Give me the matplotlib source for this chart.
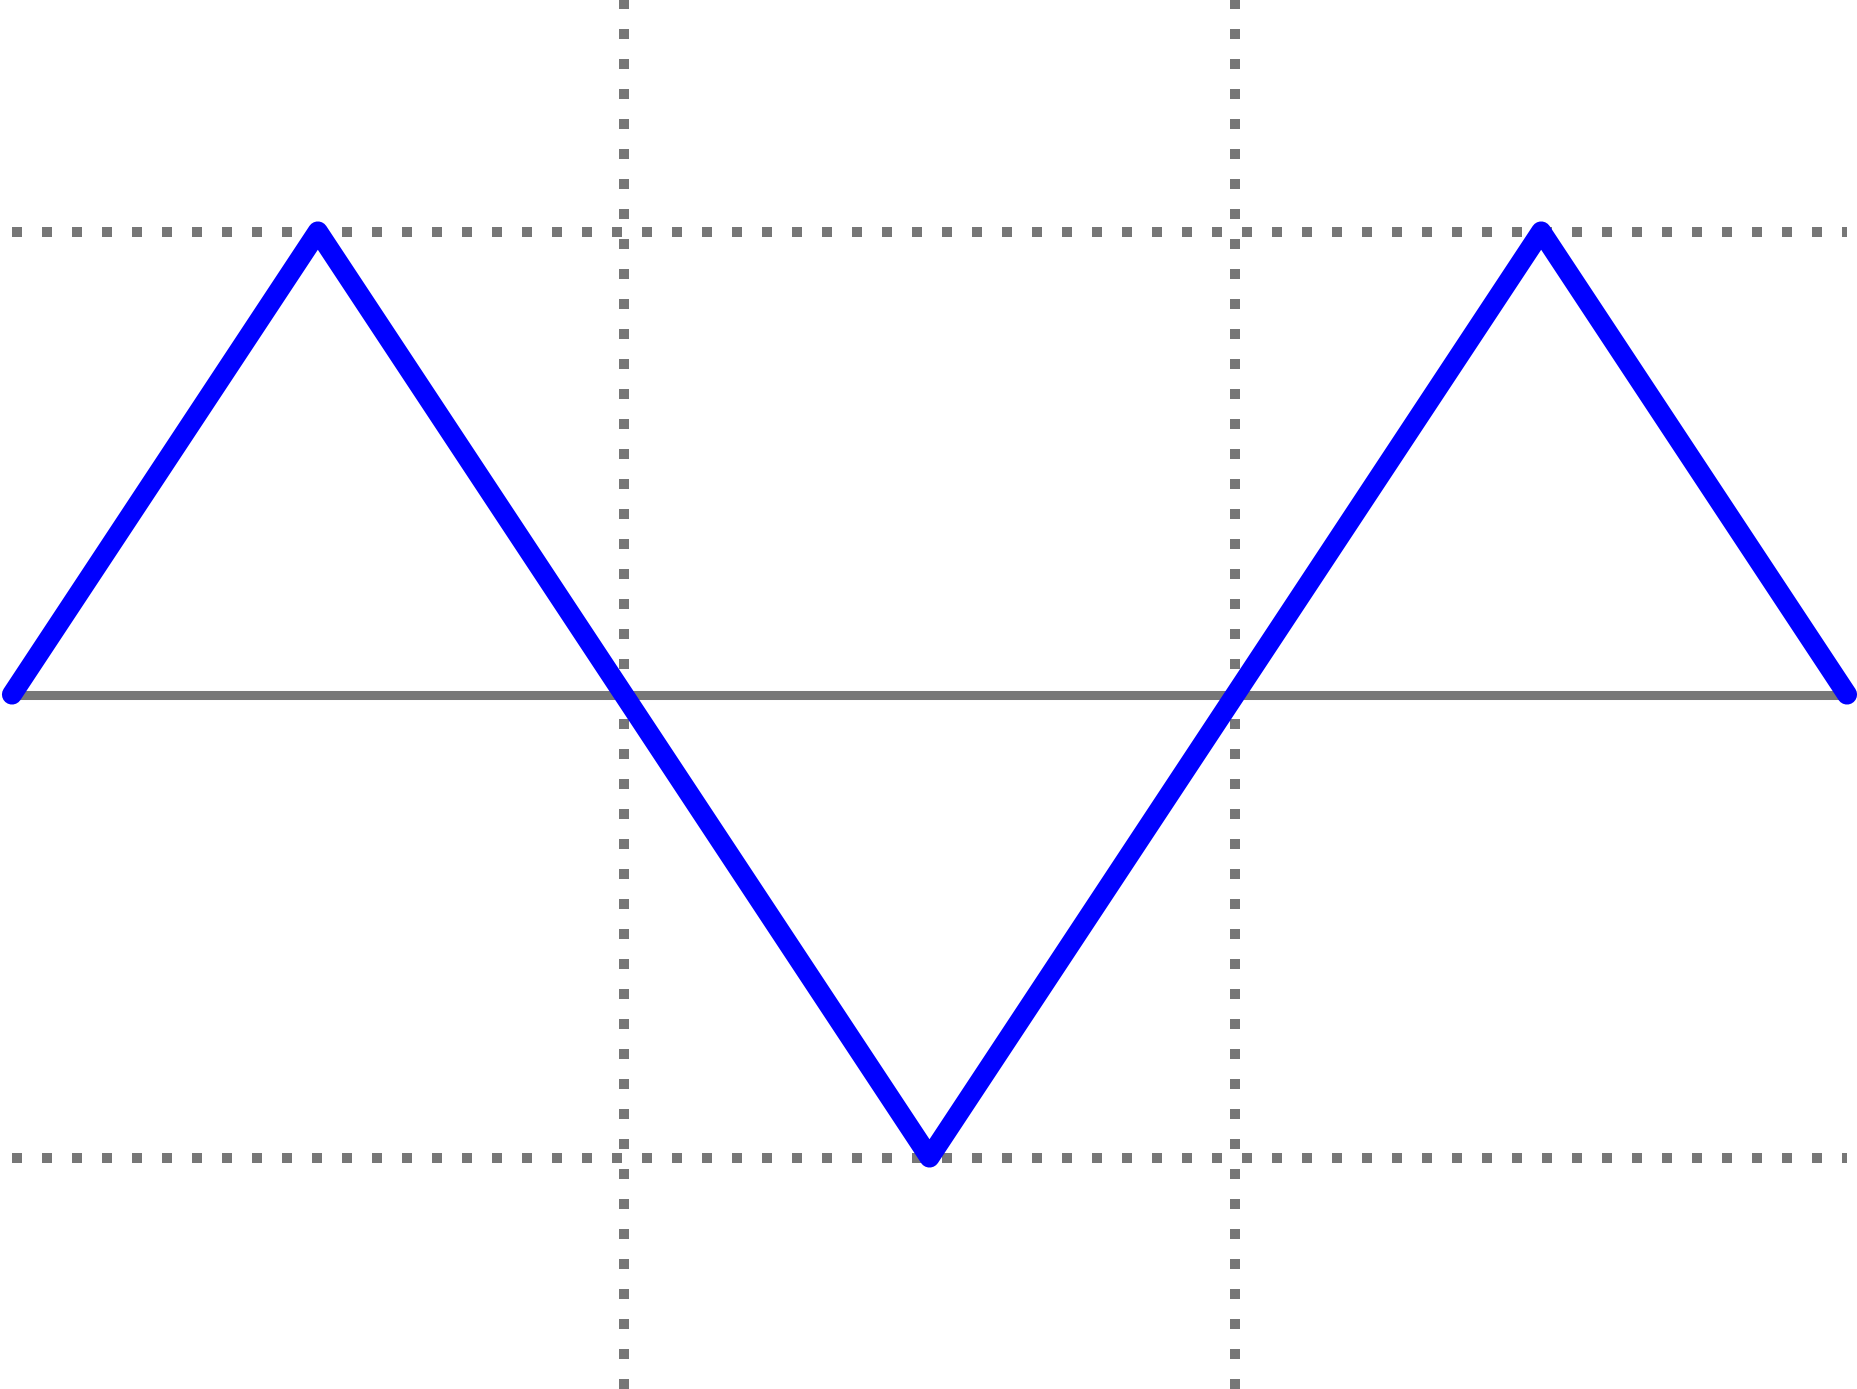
import matplotlib
matplotlib.use('Agg')
import matplotlib.pyplot as plt

# points of the zigzag
xs = [0, 1, 3, 5, 6]
ys = [0, 1, -1, 1, 0]

grid_x = [2, 4]
grid_y = [-1, 1]

fig = plt.figure(figsize=(18.57, 13.89), dpi=100)
ax = fig.add_axes([12 / 1857, 0, 1835 / 1857, 1])

ax.set_xlim(0, 6)
ax.set_ylim(-1.5, 1.5)

# dotted grid
for gx in grid_x:
    ax.axvline(gx, color='#777777', lw=7.2, linestyle=(0, (1, 2)),
               dash_capstyle='butt', zorder=1)
for gy in grid_y:
    ax.axhline(gy, color='#777777', lw=7.2, linestyle=(0, (1, 2)),
               dash_capstyle='butt', zorder=1)

# zero line
ax.axhline(0, color='#777777', lw=6.5, zorder=2)

ax.plot(xs, ys, color='#0000ff', lw=14.5, solid_capstyle='round',
        solid_joinstyle='round', clip_on=False, zorder=3)

ax.set_xticks([])
ax.set_yticks([])
for s in ax.spines.values():
    s.set_visible(False)

fig.savefig('out.png', dpi=100)
